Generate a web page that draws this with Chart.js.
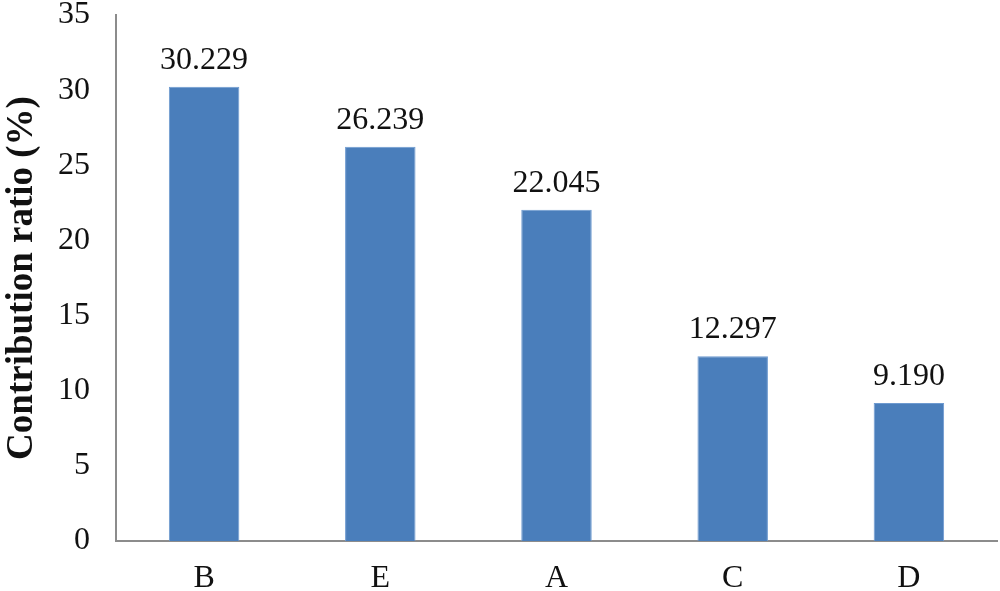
<!DOCTYPE html>
<html><head><meta charset="utf-8">
<script src="https://cdn.jsdelivr.net/npm/chart.js@4/dist/chart.umd.min.js"></script>
<style>html,body{margin:0;padding:0;background:#fff}#w{width:1000px;height:591px}</style>
</head><body><div id="w"><canvas id="c"></canvas></div>
<script>
const categories = ["B", "E", "A", "C", "D"];
const contribution = [30.229, 26.239, 22.045, 12.297, 9.190];
const labelText = ["30.229", "26.239", "22.045", "12.297", "9.190"];
const yTicks = [0, 5, 10, 15, 20, 25, 30, 35];

const FONT = "'Liberation Serif','Times New Roman',serif";
const valueLabels = {
  id: 'valueLabels',
  afterDatasetsDraw(chart) {
    const ctx = chart.ctx;
    const meta = chart.getDatasetMeta(0);
    ctx.save();
    ctx.font = "32px " + FONT;
    ctx.fillStyle = "#111";
    ctx.textAlign = "center";
    ctx.textBaseline = "alphabetic";
    meta.data.forEach((bar, i) => {
      ctx.fillText(labelText[i], bar.x, bar.y - 18);
    });
    ctx.restore();
  }
};

new Chart(document.getElementById('c'), {
  type: 'bar',
  data: {
    labels: categories,
    datasets: [{
      data: contribution,
      backgroundColor: '#4a7ebb',
      borderColor: '#6e9ad0',
      borderWidth: 1,
      categoryPercentage: 1,
      barPercentage: 0.4
    }]
  },
  options: {
    responsive: true,
    maintainAspectRatio: false,
    animation: false,
    layout: { padding: { top: 0, right: 3, left: 0, bottom: 0 } },
    plugins: { legend: { display: false }, tooltip: { enabled: false } },
    scales: {
      x: {
        grid: { display: false, drawTicks: false },
        border: { color: '#8c8c8c', width: 2 },
        ticks: { color: '#111', font: { family: FONT, size: 32 }, padding: 18 },
        afterFit(s) { s.height = 50; }
      },
      y: {
        min: 0, max: 35,
        afterBuildTicks(s) { s.ticks = yTicks.map(v => ({ value: v })); },
        grid: { display: false, drawTicks: true, tickLength: 9, tickColor: '#8c8c8c', tickWidth: 2 },
        border: { color: '#8c8c8c', width: 2 },
        ticks: { color: '#111', font: { family: FONT, size: 32 }, padding: 17 },
        title: { display: true, text: 'Contribution ratio (%)', color: '#111',
                 font: { family: FONT, size: 37, weight: 'bold' }, padding: 0 },
        afterFit(s) { s.width = 116; s.paddingTop = 15; s.paddingBottom = 0; }
      }
    }
  },
  plugins: [valueLabels]
});
</script>
</body></html>
